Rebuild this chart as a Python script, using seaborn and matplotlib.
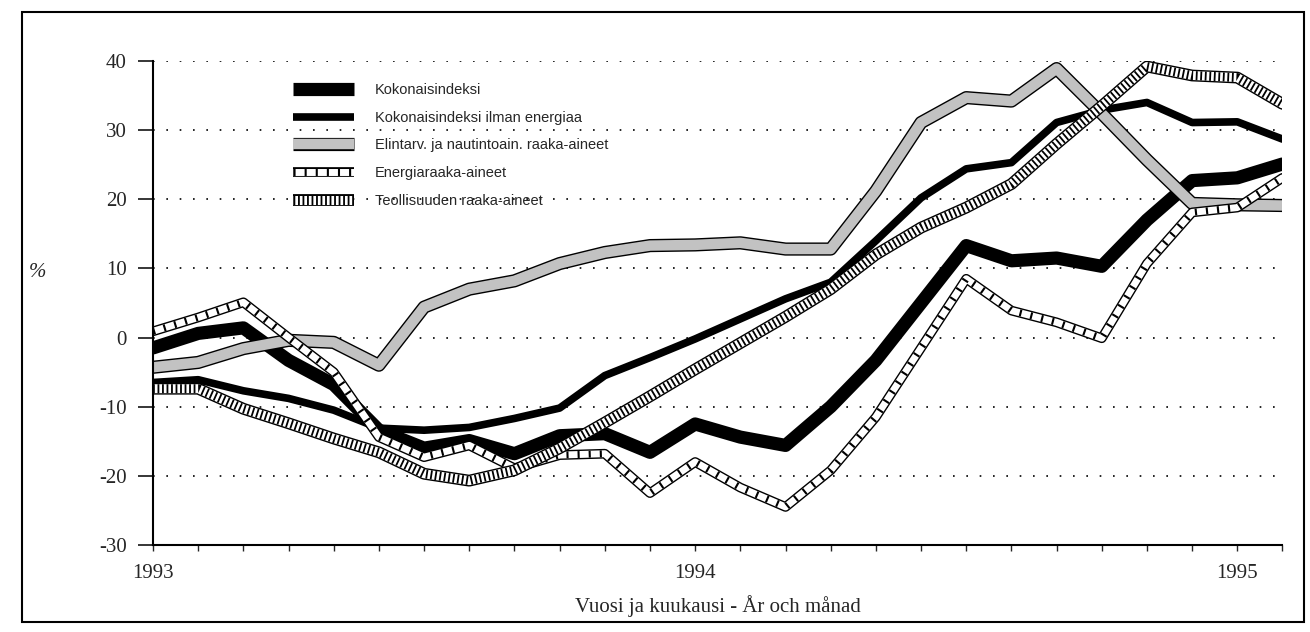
import numpy as np
import matplotlib.pyplot as plt
import matplotlib.patheffects as pe
from matplotlib.lines import Line2D
from matplotlib.legend_handler import HandlerTuple
from matplotlib.patches import Rectangle
import seaborn as sns

# kuukaudet tammikuu 1993 ... helmikuu 1995
months = np.arange(26)
year_ticks = [0, 12, 24]
year_labels = ['1993', '1994', '1995']

koko = [-1.5, 0.6, 1.4, -3.3, -6.8, -13.4, -16.0, -14.9, -16.8, -14.2, -13.9, -16.6, -12.5,
        -14.4, -15.6, -10.0, -3.3, 5.0, 13.3, 11.1, 11.5, 10.3, 17.0, 22.7, 23.1, 25.1]
ilman = [-6.5, -6.1, -7.7, -8.8, -10.5, -13.1, -13.4, -13.0, -11.7, -10.2, -5.5, -2.9, -0.2,
         2.7, 5.6, 8.0, 14.0, 20.2, 24.4, 25.3, 31.1, 32.9, 34.0, 31.1, 31.2, 28.7]
elintarv = [-4.3, -3.6, -1.6, -0.4, -0.7, -4.0, 4.4, 7.0, 8.2, 10.7, 12.3, 13.3, 13.4,
            13.7, 12.8, 12.8, 21.2, 31.1, 34.7, 34.2, 38.9, 32.4, 25.7, 19.4, 19.2, 19.1]
energia = [0.9, 2.9, 5.1, 0.0, -5.0, -14.4, -17.3, -15.6, -18.9, -17.0, -16.8, -22.5, -18.0,
           -21.7, -24.5, -19.2, -11.5, -1.5, 8.5, 3.9, 2.2, -0.1, 10.7, 18.1, 18.8, 23.1]
teoll = [-7.4, -7.4, -10.3, -12.4, -14.6, -16.6, -19.7, -20.7, -19.2, -16.0, -12.3, -8.5, -4.6,
         -0.8, 3.0, 7.0, 12.0, 15.9, 18.8, 22.2, 28.0, 33.5, 39.2, 37.9, 37.6, 33.8]

labels = ['Kokonaisindeksi', 'Kokonaisindeksi ilman energiaa',
          'Elintarv. ja nautintoain. raaka-aineet', 'Energiaraaka-aineet',
          'Teollisuuden raaka-aineet']

sns.set_style('white')
plt.rcParams['font.family'] = ['Liberation Serif', 'DejaVu Serif']
plt.rcParams['axes.unicode_minus'] = False

fig = plt.figure(figsize=(13.1, 6.32), dpi=100)
ax = fig.add_axes([0.1168, 0.1377, 0.8622, 0.7658])

def outline(w):
    return [pe.Stroke(linewidth=w, foreground='black'), pe.Normal()]

grey = '#c2c2c2'
en_dash = (0, (0.3, 1.3))
te_dash = (0, (0.2, 0.3))

sns.lineplot(x=months, y=koko, ax=ax, color='black', lw=9.5)
sns.lineplot(x=months, y=ilman, ax=ax, color='black', lw=5.5)
sns.lineplot(x=months, y=elintarv, ax=ax, color=grey, lw=7.5, path_effects=outline(9.5))
sns.lineplot(x=months, y=energia, ax=ax, color='white', lw=5, path_effects=outline(7))
sns.lineplot(x=months, y=energia, ax=ax, color='black', lw=5, linestyle=en_dash)
sns.lineplot(x=months, y=teoll, ax=ax, color='white', lw=6.5, path_effects=outline(8.5))
sns.lineplot(x=months, y=teoll, ax=ax, color='black', lw=6.5, linestyle=te_dash)

ax.set_xlim(0, 25)
ax.set_ylim(-30, 40)
ax.set_yticks(range(-30, 41, 10))
ax.set_xticks(months)
ax.set_xticklabels([year_labels[year_ticks.index(m)] if m in year_ticks else '' for m in months])
ax.tick_params(axis='y', length=11, width=1.3, direction='out', pad=8, labelsize=15, left=True)
ax.tick_params(axis='x', length=4.5, width=1, direction='out', pad=9, labelsize=15, bottom=True)
ax.yaxis.grid(True, linestyle=(0, (1, 7)), lw=1.2, color='black')
ax.set_axisbelow(True)
sns.despine(ax=ax, top=True, right=True)
for s in ['left', 'bottom']:
    ax.spines[s].set_linewidth(1.5)
    ax.spines[s].set_color('black')

ax.set_xlabel('Vuosi ja kuukausi - År och månad', fontsize=15, labelpad=9)
fig.text(38 / 1310, 1 - 272 / 632, '%', fontsize=15, style='italic', ha='center', va='center')

# selite
butt = dict(solid_capstyle='butt', dash_capstyle='butt')
h_koko = Line2D([], [], color='black', lw=9.5, **butt)
h_ilman = Line2D([], [], color='black', lw=5.5, **butt)
h_elin = Line2D([], [], color=grey, lw=7.5, path_effects=outline(9.5), **butt)
h_en1 = Line2D([], [], color='white', lw=5, path_effects=outline(7), **butt)
h_en2 = Line2D([], [], color='black', lw=5, linestyle=en_dash, **butt)
h_te1 = Line2D([], [], color='white', lw=6.5, path_effects=outline(8.5), **butt)
h_te2 = Line2D([], [], color='black', lw=6.5, linestyle=te_dash, **butt)
leg = ax.legend([h_koko, h_ilman, h_elin, (h_en1, h_en2), (h_te1, h_te2)], labels,
                handler_map={tuple: HandlerTuple(ndivide=1)},
                loc='upper left', bbox_to_anchor=(0.124, 0.955), frameon=False,
                borderpad=0, borderaxespad=0, handlelength=4.2, handletextpad=1.4,
                labelspacing=0.95, prop={'family': ['Liberation Sans'], 'size': 10.5})

fig.add_artist(Rectangle((0.0168, 0.0158), 0.979, 0.965, transform=fig.transFigure,
                         fill=False, lw=1.5, ec='black'))

fig.savefig('out.png', dpi=100, facecolor='white')
